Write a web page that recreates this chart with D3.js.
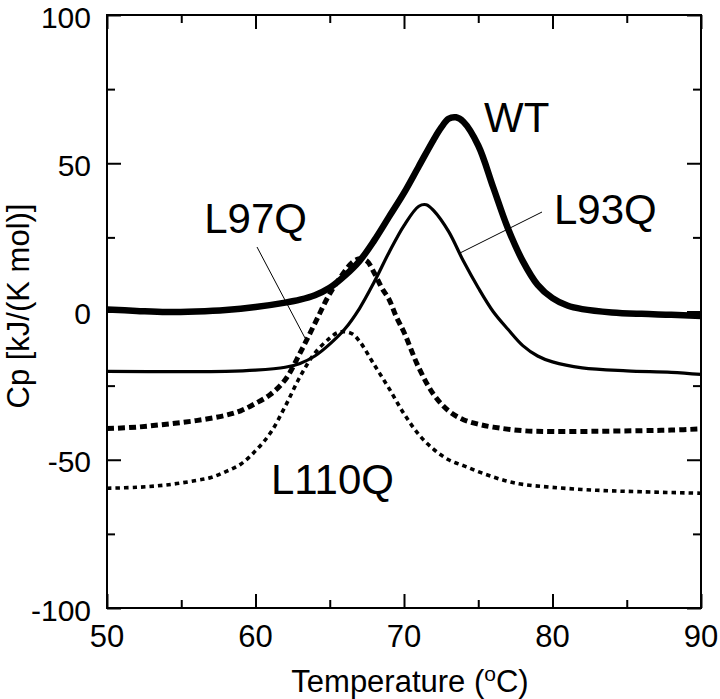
<!DOCTYPE html>
<html>
<head>
<meta charset="utf-8">
<script src="https://cdn.jsdelivr.net/npm/d3@7/dist/d3.min.js"></script>
<style>
  html, body { margin: 0; padding: 0; background: #fff; }
  svg { display: block; }
  text { font-family: "Liberation Sans", Arial, sans-serif; fill: #000; }
</style>
</head>
<body>
<svg id="chart" width="720" height="699"></svg>
<script>
// ---- data ----
const xTicks = [50, 60, 70, 80, 90];
const xMinor = [55, 65, 75, 85];
const yTicks = [-100, -50, 0, 50, 100];
const yMinor = [-75, -25, 25, 75];

const wtT  = [50, 52, 54, 56, 58, 60, 62, 63, 64, 65, 66, 67, 68, 69, 70, 71, 72, 72.5, 73, 73.5, 74, 75, 76, 77, 78, 79, 80, 81, 82, 84, 86, 88, 90];
const wtCp = [0.7, 0.2, -0.2, 0, 0.5, 1.5, 3, 4, 5.5, 8, 12, 17, 24, 32, 40, 49, 58, 62, 65, 65.5, 64, 56, 42, 28, 17, 9, 4.5, 2, 0.8, -0.3, -0.8, -1.1, -1.5];

const l93T  = [50, 55, 58, 60, 62, 63, 64, 65, 66, 67, 68, 69, 70, 71, 71.5, 72, 73, 74, 75, 76, 77, 78, 79, 80, 82, 85, 88, 90];
const l93Cp = [-20.2, -20.3, -20.2, -19.8, -18.8, -17.5, -15, -11, -6, 1, 10, 20, 29, 35.5, 36, 34, 27, 17, 8, 0, -6, -11.5, -15, -17, -19, -20, -20.5, -21.2];

const l97T  = [50, 52, 54, 56, 58, 59, 60, 61, 62, 63, 64, 65, 66, 66.5, 67, 67.5, 68, 68.5, 69, 69.5, 70, 71, 72, 73, 74, 75, 76, 78, 80, 83, 86, 88, 90];
const l97Cp = [-39.5, -39, -38, -36.8, -35, -33.5, -31, -28, -23, -14, -4, 6, 13.5, 16.5, 17.8, 17, 13, 8, 4, -2, -7, -19, -28, -33.5, -36.5, -38, -39, -40.2, -40.5, -40.4, -40.2, -40, -39.6];

const l110T  = [50, 52, 54, 56, 57, 58, 59, 60, 61, 62, 63, 64, 65, 65.5, 66, 66.5, 67, 68, 69, 70, 71, 72, 73, 74, 75, 76, 77, 78, 80, 83, 86, 90];
const l110Cp = [-59.6, -59.3, -58.5, -57, -56, -54, -51.5, -47, -41, -32, -22, -14, -9, -7.2, -6.8, -7.5, -10, -18, -26, -34.5, -41.5, -46.5, -50, -52, -54, -55.8, -57.3, -58.3, -59.3, -60.3, -60.8, -61.3];

const seriesNames = ["WT", "L93Q", "L97Q", "L110Q"];

// ---- layout ----
const svg = d3.select("#chart");
const pL = 107, pR = 701, pT = 15, pB = 608;

const x = d3.scaleLinear().domain([50, 90]).range([pL, pR]);
const y = d3.scaleLinear().domain([-100, 100]).range([pB, pT]);

const series = [
  { name: "WT",    T: wtT,   C: wtCp,   width: 6.5, dash: null },
  { name: "L93Q",  T: l93T,  C: l93Cp,  width: 3.2, dash: null },
  { name: "L97Q",  T: l97T,  C: l97Cp,  width: 5,   dash: "7,4" },
  { name: "L110Q", T: l110T, C: l110Cp, width: 3.6, dash: "4.5,4" }
];

const line = d3.line()
  .x(d => x(d[0])).y(d => y(d[1]))
  .curve(d3.curveCatmullRom.alpha(0.5));

const plot = svg.append("g");
series.forEach(s => {
  const pts = s.T.map((t, i) => [t, s.C[i]]);
  plot.append("path")
    .attr("d", line(pts))
    .attr("fill", "none")
    .attr("stroke", "#000")
    .attr("stroke-width", s.width)
    .attr("stroke-linejoin", "round")
    .attr("stroke-dasharray", s.dash);
});

// ---- axes (inward ticks on all four sides) ----
function styleAxis(g) {
  g.select(".domain").remove();
  g.selectAll(".tick line").attr("stroke", "#000").attr("stroke-width", 2);
}
const tickFont = 30;

svg.append("g").attr("transform", `translate(0,${pB})`)
  .call(d3.axisBottom(x).tickValues(xTicks).tickSize(-14).tickFormat(""))
  .call(styleAxis);
svg.append("g").attr("transform", `translate(0,${pB})`)
  .call(d3.axisBottom(x).tickValues(xMinor).tickSize(-8).tickFormat(""))
  .call(styleAxis);
svg.append("g").attr("transform", `translate(0,${pT})`)
  .call(d3.axisTop(x).tickValues(xTicks).tickSize(-14).tickFormat(""))
  .call(styleAxis);
svg.append("g").attr("transform", `translate(0,${pT})`)
  .call(d3.axisTop(x).tickValues(xMinor).tickSize(-8).tickFormat(""))
  .call(styleAxis);
svg.append("g").attr("transform", `translate(${pL},0)`)
  .call(d3.axisLeft(y).tickValues(yTicks).tickSize(-14).tickFormat(""))
  .call(styleAxis);
svg.append("g").attr("transform", `translate(${pL},0)`)
  .call(d3.axisLeft(y).tickValues(yMinor).tickSize(-8).tickFormat(""))
  .call(styleAxis);
svg.append("g").attr("transform", `translate(${pR},0)`)
  .call(d3.axisRight(y).tickValues(yTicks).tickSize(-14).tickFormat(""))
  .call(styleAxis);
svg.append("g").attr("transform", `translate(${pR},0)`)
  .call(d3.axisRight(y).tickValues(yMinor).tickSize(-8).tickFormat(""))
  .call(styleAxis);

// frame
svg.append("rect")
  .attr("x", pL).attr("y", pT)
  .attr("width", pR - pL).attr("height", pB - pT)
  .attr("fill", "none").attr("stroke", "#000").attr("stroke-width", 2);

// tick labels
svg.append("g").selectAll("text").data(xTicks).join("text")
  .attr("x", d => x(d)).attr("y", 647)
  .attr("text-anchor", "middle")
  .style("font-size", "31px")
  .text(d => d);
svg.append("g").selectAll("text").data(yTicks).join("text")
  .attr("x", 91).attr("y", d => y(d) + 12.5)
  .attr("text-anchor", "end")
  .style("font-size", tickFont + "px")
  .text(d => d);

// axis titles
const xt = svg.append("text")
  .attr("x", 410).attr("y", 692)
  .attr("text-anchor", "middle")
  .style("font-size", "31px");
xt.append("tspan").text("Temperature (");
xt.append("tspan").attr("dy", -11).style("font-size", "21px").text("o");
xt.append("tspan").attr("dy", 11).text("C)");

svg.append("text")
  .attr("transform", `translate(29,306) rotate(-90)`)
  .attr("text-anchor", "middle")
  .style("font-size", "31px")
  .text("Cp [kJ/(K mol)]");

// series labels with leader lines
const labelFont = "42px";
svg.append("text").attr("x", 484).attr("y", 132).style("font-size", labelFont).text(seriesNames[0]);
svg.append("text").attr("x", 554).attr("y", 224).style("font-size", labelFont).text(seriesNames[1]);
svg.append("text").attr("x", 307).attr("y", 233).attr("text-anchor", "end").style("font-size", labelFont).text(seriesNames[2]);
svg.append("text").attr("x", 271).attr("y", 494).style("font-size", labelFont).text(seriesNames[3]);

svg.append("line").attr("x1", 542).attr("y1", 212).attr("x2", 460).attr("y2", 253)
  .attr("stroke", "#000").attr("stroke-width", 1);
svg.append("line").attr("x1", 257).attr("y1", 247).attr("x2", 305).attr("y2", 338)
  .attr("stroke", "#000").attr("stroke-width", 1);
</script>
</body>
</html>
